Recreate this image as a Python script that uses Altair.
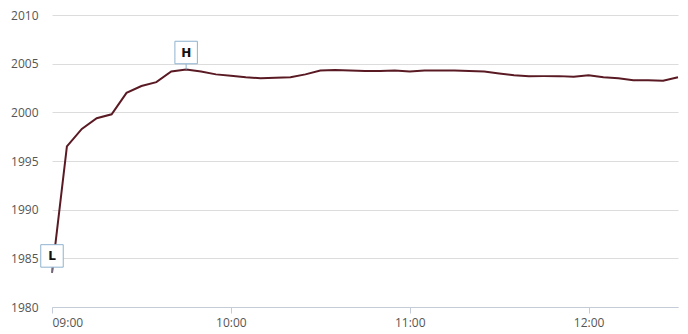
import altair as alt
import pandas as pd

times = ["09:00","09:05","09:10","09:15","09:20","09:25","09:30","09:35","09:40","09:45",
         "09:50","09:55","10:00","10:05","10:10","10:15","10:20","10:25","10:30","10:35",
         "10:40","10:45","10:50","10:55","11:00","11:05","11:10","11:15","11:20","11:25",
         "11:30","11:35","11:40","11:45","11:50","11:55","12:00","12:05","12:10","12:15",
         "12:20","12:25","12:30"]
values = [1983.5,1996.5,1998.3,1999.4,1999.8,2002.0,2002.7,2003.1,2004.2,2004.4,
          2004.2,2003.9,2003.75,2003.6,2003.5,2003.55,2003.6,2003.9,2004.3,2004.35,
          2004.3,2004.25,2004.25,2004.3,2004.2,2004.3,2004.3,2004.3,2004.25,2004.2,
          2004.0,2003.8,2003.7,2003.72,2003.72,2003.65,2003.8,2003.6,2003.5,2003.3,
          2003.3,2003.25,2003.6]
marker_labels = ["L", "H"]
marker_times = ["09:00", "09:45"]
marker_values = [1983.5, 2004.4]
hour_ticks = [9, 10, 11, 12]

def to_hours(t):
    h, m = t.split(":")
    return int(h) + int(m) / 60.0

df = pd.DataFrame({"t": [to_hours(t) for t in times], "v": values})
mk = pd.DataFrame({"t": [to_hours(t) for t in marker_times], "v": marker_values,
                   "v2": marker_values, "lab": marker_labels})

xscale = alt.Scale(domain=[9, 12.5], nice=False, zero=False)
yscale = alt.Scale(domain=[1980, 2010], nice=False, zero=False)

xaxis = alt.Axis(values=hour_ticks, grid=False, domainColor="#c4ccd8", tickColor="#c4ccd8",
                 tickSize=6, labelColor="#555555", labelFontSize=12, labelFont="Open Sans",
                 labelPadding=4, title=None,
                 labelExpr="(datum.value < 10 ? '0' : '') + datum.value + ':00'")
yaxis = alt.Axis(values=[1980, 1985, 1990, 1995, 2000, 2005, 2010], domain=False, ticks=False,
                 format="d", gridColor="#dcdcdc", labelColor="#555555", labelFontSize=12,
                 labelFont="Open Sans", labelPadding=14, title=None)

line = alt.Chart(df).mark_line(color="#5a1a24", strokeWidth=2).encode(
    x=alt.X("t:Q", scale=xscale, axis=xaxis),
    y=alt.Y("v:Q", scale=yscale, axis=yaxis),
)

conn = alt.Chart(mk).mark_rule(color="#8fb3cf", strokeWidth=1, yOffset=-6, y2Offset=0).encode(
    x=alt.X("t:Q", scale=xscale),
    y=alt.Y("v:Q", scale=yscale),
    y2="v2:Q",
)

box = alt.Chart(mk).mark_point(shape="square", size=506, filled=True, fill="white",
                               stroke="#8fb3cf", strokeWidth=1, opacity=1, yOffset=-17).encode(
    x=alt.X("t:Q", scale=xscale),
    y=alt.Y("v:Q", scale=yscale),
)

txt = alt.Chart(mk).mark_text(font="DejaVu Sans", fontWeight="bold", fontSize=12, color="#111111",
                              yOffset=-17).encode(
    x=alt.X("t:Q", scale=xscale),
    y=alt.Y("v:Q", scale=yscale),
    text="lab:N",
)

chart = alt.layer(line, conn, box, txt).properties(
    width=626, height=292,
    autosize=alt.AutoSizeParams(type="none"),
    padding={"left": 52, "top": 15, "right": 10, "bottom": 27},
).configure(background="white").configure_view(stroke=None, strokeWidth=0)

chart.save("out.html", embed_options={"renderer": "svg", "actions": False})
